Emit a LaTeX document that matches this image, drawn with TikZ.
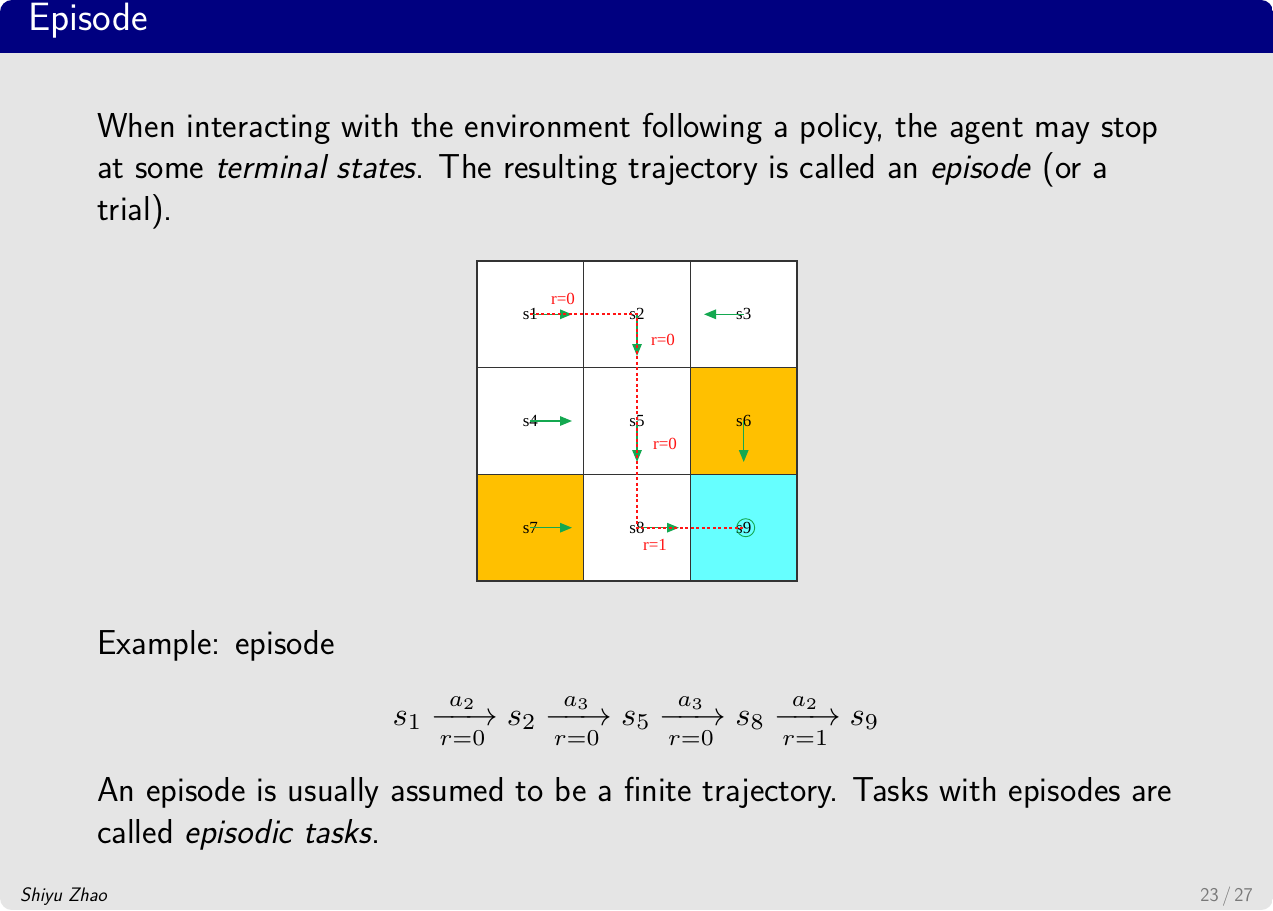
\RequirePackage{fix-cm}
\documentclass[tikz,border=0pt]{standalone}
\usepackage{amsmath}
\usepackage{fontspec}
\usetikzlibrary{arrows.meta}
\newfontfamily\gridfont{Liberation Serif}
\definecolor{pagebg}{RGB}{229,229,229}
\definecolor{hdr}{RGB}{0,0,128}
\definecolor{gorange}{RGB}{255,192,0}
\definecolor{gcyan}{RGB}{102,255,255}
\definecolor{agreen}{RGB}{20,168,80}
\definecolor{rred}{RGB}{255,20,20}
\definecolor{pgnum}{RGB}{120,120,120}
\tikzset{
  bodytext/.style={anchor=base west, inner sep=0pt, font=\sffamily\fontsize{34.6}{42}\selectfont},
  cell/.style={draw=black!80, line width=1.2pt, minimum size=106.67pt, inner sep=0pt, font=\gridfont\fontsize{17}{20}\selectfont},
  act/.style={draw=agreen, line width=1.4pt, -{Triangle[length=12pt,width=9.5pt]}},
  traj/.style={draw=rred, line width=2pt, dash pattern=on 3pt off 2.5pt},
  rew/.style={text=rred, inner sep=0pt, font=\gridfont\fontsize{17}{20}\selectfont},
}
\begin{document}
\begin{tikzpicture}[x=1pt,y=-1pt]
\useasboundingbox (0,0) rectangle (1273,910);
\fill[white] (0,0) rectangle (1273,910);
\begin{scope}
  \clip[rounded corners=12pt] (0,0) rectangle (1273,910);
  \fill[pagebg] (0,0) rectangle (1273,910);
  \fill[hdr] (0,0) rectangle (1273,53);
\end{scope}
\node[anchor=base west, inner sep=0pt, text=white, font=\sffamily\fontsize{39.5}{46}\selectfont] (title) at (28,30) {Episode};

\node[bodytext] (p1) at (97,137) {When interacting with the environment following a policy, the agent may stop};
\node[bodytext] (p2) at (97,178) {at some \textit{terminal states}. The resulting trajectory is called an \textit{episode} (or a};
\node[bodytext] (p3) at (97,220) {trial).};

% grid
\node[cell, fill=white]   (c1) at (530.3,314.3) {s1};
\node[cell, fill=white]   (c2) at (637,314.3) {s2};
\node[cell, fill=white]   (c3) at (743.7,314.3) {s3};
\node[cell, fill=white]   (c4) at (530.3,421) {s4};
\node[cell, fill=white]   (c5) at (637,421) {s5};
\node[cell, fill=gorange] (c6) at (743.7,421) {s6};
\node[cell, fill=gorange] (c7) at (530.3,527.7) {s7};
\node[cell, fill=white]   (c8) at (637,527.7) {s8};
\node[cell, fill=gcyan]   (c9) at (743.7,527.7) {s9};

\coordinate (e1) at (572,314.3);
\coordinate (e2) at (637,356);
\coordinate (e3) at (704,314.3);
\coordinate (e4) at (572,421);
\coordinate (e5) at (637,462);
\coordinate (e6) at (743.7,462);
\coordinate (e7) at (572,527.7);
\coordinate (e8) at (679,527.7);
\draw[act] (c1.center) -- (e1);
\draw[act] (c2.center) -- (e2);
\draw[act] (c3.center) -- (e3);
\draw[act] (c4.center) -- (e4);
\draw[act] (c5.center) -- (e5);
\draw[act] (c6.center) -- (e6);
\draw[act] (c7.center) -- (e7);
\draw[act] (c8.center) -- (e8);
\draw[agreen, line width=0.9pt] ([xshift=2pt]c9.center) circle (9pt);

\draw[traj] (c1.center) -- (c2.center) -- (c5.center) -- (c8.center) -- ([xshift=2pt]c9.center);

\node[rew] (r1) at (563,299) {r=0};
\node[rew] (r2) at (663,340) {r=0};
\node[rew] (r3) at (665,444) {r=0};
\node[rew] (r4) at (655,545) {r=1};

\node[bodytext] (ex) at (97,654) {Example: episode};
\node[anchor=base, inner sep=0pt] (eq) at (636,725)
  {\scalebox{3.25}{\fontsize{10}{12}\selectfont$s_1\xrightarrow[r=0]{a_2}s_2\xrightarrow[r=0]{a_3}s_5\xrightarrow[r=0]{a_3}s_8\xrightarrow[r=1]{a_2}s_9$}};

\node[bodytext] (q1) at (97,801) {An episode is usually assumed to be a finite trajectory. Tasks with episodes are};
\node[bodytext] (q2) at (97,843) {called \textit{episodic tasks}.};

\node[anchor=base west, inner sep=0pt, font=\sffamily\itshape\fontsize{19.5}{22}\selectfont] (auth) at (20,901) {Shiyu Zhao};
\node[anchor=base east, inner sep=0pt, text=pgnum, font=\sffamily\fontsize{19.5}{22}\selectfont] (pg) at (1253,901) {23\,/\,27};
\end{tikzpicture}
\end{document}
